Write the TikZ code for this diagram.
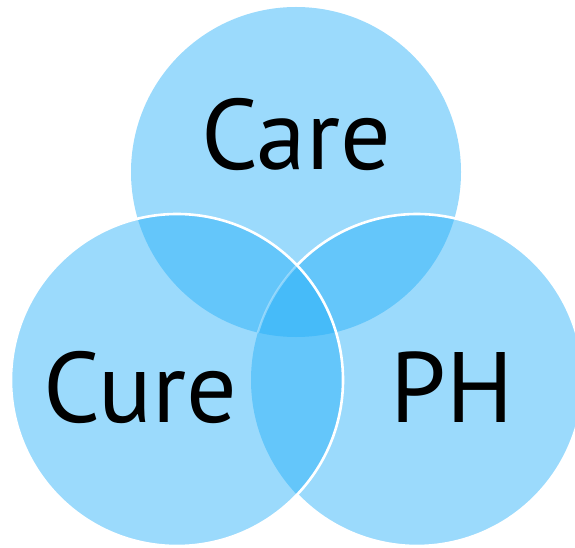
\documentclass[tikz,border=0pt]{standalone}
\usepackage{fontspec}
\setmainfont{PT Sans}
\definecolor{vennblue}{rgb}{0.13,0.68,0.974}
\begin{document}
\begin{tikzpicture}[x=1pt,y=1pt,
  venn/.style={circle,fill=vennblue,fill opacity=0.45,draw=none,inner sep=0pt,minimum size=332pt},
  lbl/.style={anchor=base,text=black,font=\fontsize{100}{105}\selectfont},
  rim/.style={draw=white,line width=2.6pt}]
\useasboundingbox (0,0) rectangle (575,547);
\begin{scope}
\clip (0,0) rectangle (575,547);
\node[venn,minimum size=330pt] (care) at (296,375) {};
\node[venn] (cure) at (177,167) {};
\node[venn] (ph) at (417,167) {};
% right circle rim, outside the left circle
\draw[rim] (ph.center) ++(136.3:166) arc[start angle=136.3,end angle=-136.3,radius=166];
% faint part of right rim inside left and top circles
\begin{scope}
\clip (care.center) circle (165);
\draw[draw=white,line width=2.2pt,draw opacity=0.35] (ph.center) ++(136.3:166) arc[start angle=136.3,end angle=223.7,radius=166];
\end{scope}
% left circle rim
\draw[rim] (cure.center) circle (166);
\end{scope}
\node[lbl] (tcare) at (296,377) {Care};
\node[lbl] (tcure) at (140.5,125) {Cure};
\node[lbl] (tph) at (452,125) {PH};
\end{tikzpicture}
\end{document}
